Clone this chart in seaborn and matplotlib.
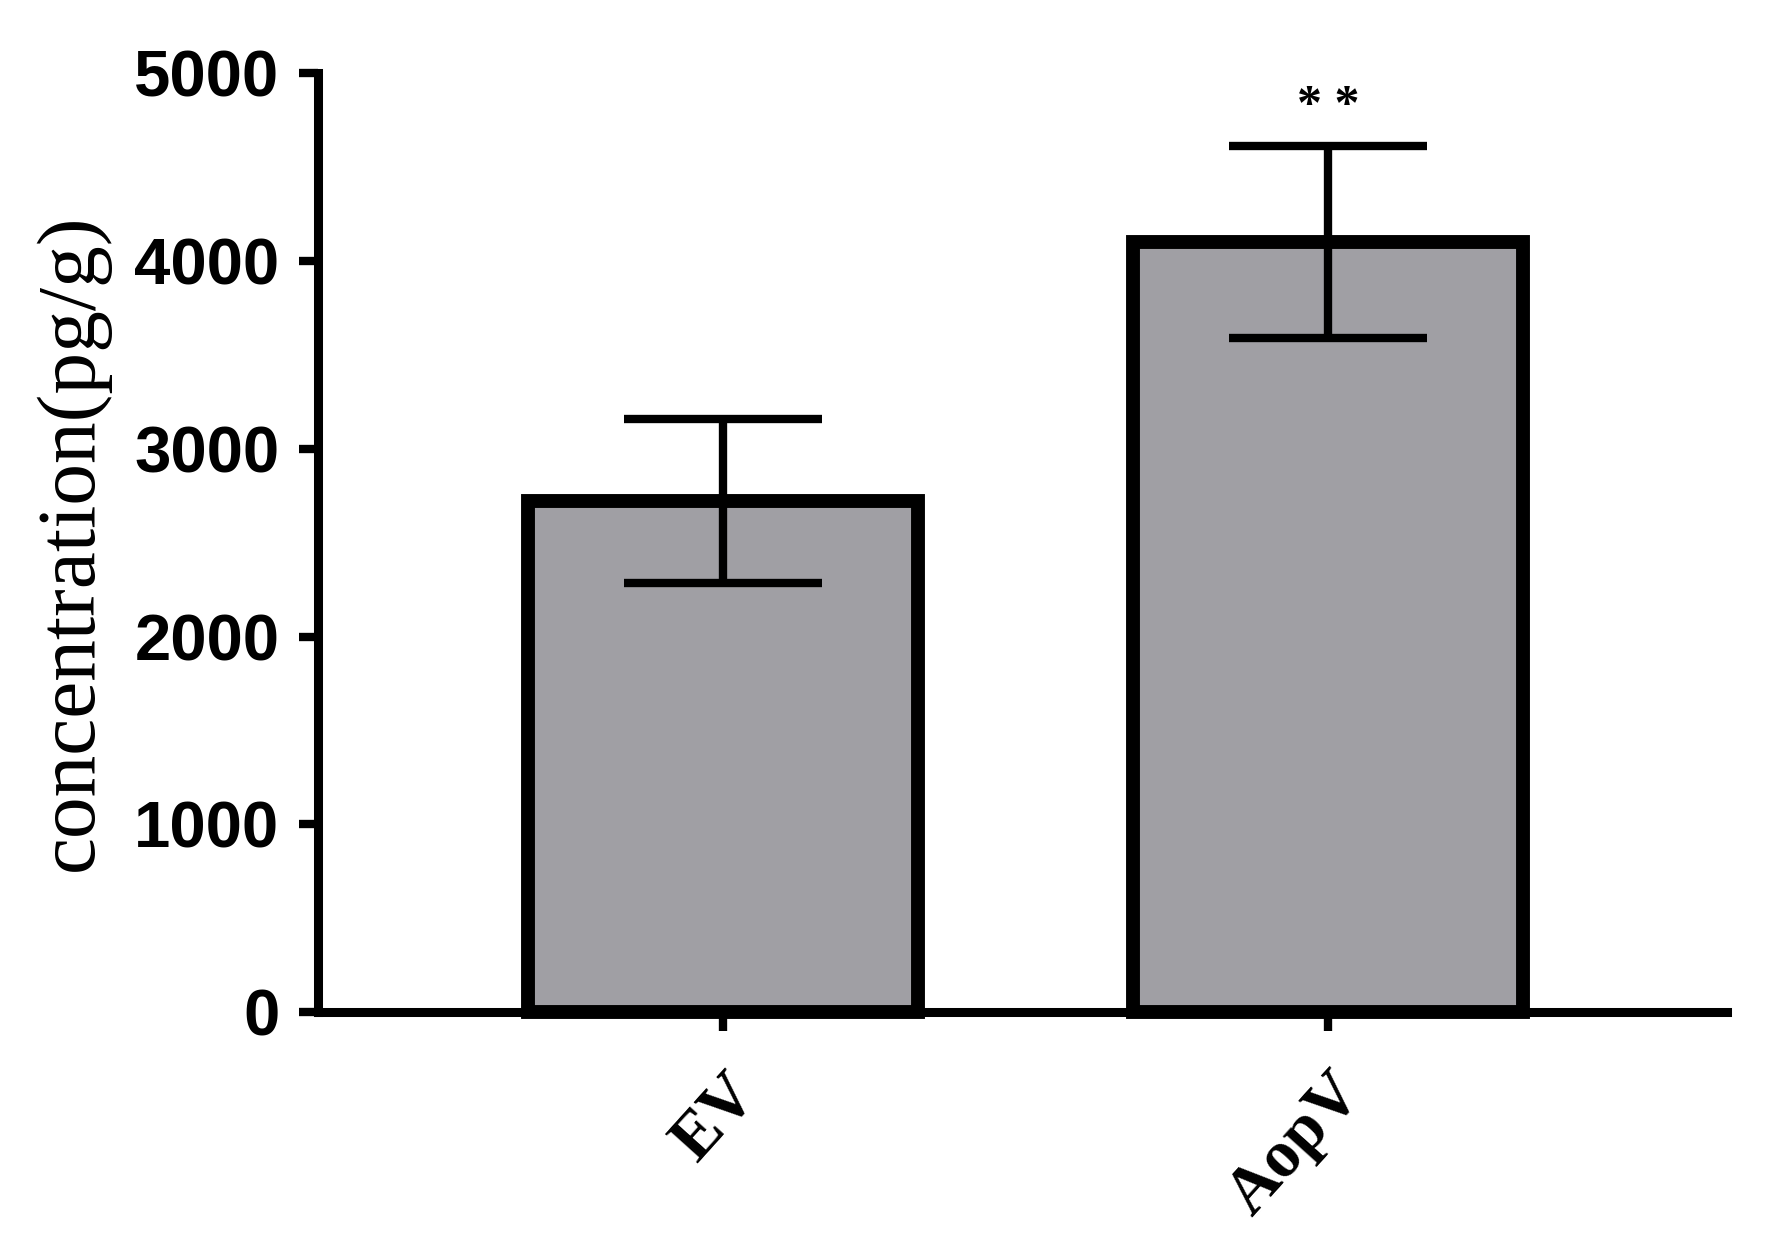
import matplotlib
matplotlib.use("Agg")
import matplotlib.pyplot as plt
import seaborn as sns
import pandas as pd

categories = ["EV", "AopV"]
means = [2720, 4100]
errors = [435, 510]
significance = ["", "* *"]
yticks = [0, 1000, 2000, 3000, 4000, 5000]

sns.set_style("ticks")
plt.rcParams['font.family'] = ['Liberation Sans', 'DejaVu Sans']

fig = plt.figure(figsize=(17.68, 12.53), dpi=100)
ax = fig.add_axes([0.180, 0.192, 0.797, 0.750])

df = pd.DataFrame({"group": categories, "value": means})
sns.barplot(data=df, x="group", y="value", order=categories, color="#a09fa4",
            width=0.645, edgecolor="black", linewidth=10, errorbar=None,
            saturation=1, ax=ax)
for p in ax.patches:
    p.set_facecolor("#a09fa4")
    p.set_clip_on(False)

ax.errorbar(x=range(len(categories)), y=means, yerr=errors, fmt="none",
            ecolor="black", elinewidth=6, capsize=71, capthick=6, zorder=5)

for i, s in enumerate(significance):
    if s:
        ax.text(i, 4820, s, ha="center", va="center",
                fontsize=36, fontweight="bold", family="Liberation Serif",
                color="black")

ax.set_ylim(0, 5000)
ax.set_xlim(-0.67, 1.66)
ax.set_yticks(yticks)
ax.set_yticklabels([str(t) for t in yticks], fontsize=47, fontweight="bold",
                   family="Liberation Sans", color="black")
ax.set_xticks(range(len(categories)))
ax.set_xticklabels(categories, rotation=48, ha="right", rotation_mode="anchor",
                   fontsize=48, fontweight="bold", family="Liberation Serif",
                   color="black")
ax.set_xlabel("")
ax.set_ylabel("concentration(pg/g)", fontsize=60, family="Liberation Serif",
              color="black")
ax.yaxis.set_label_coords(-0.148, 0.5)

for side in ["top", "right"]:
    ax.spines[side].set_visible(False)
for side in ["left", "bottom"]:
    ax.spines[side].set_linewidth(6.5)
    ax.spines[side].set_color("black")
ax.tick_params(axis="both", width=6, length=14, color="black", pad=14)
ax.tick_params(axis="x", pad=22)

fig.savefig("out.png", dpi=100, facecolor="white")
